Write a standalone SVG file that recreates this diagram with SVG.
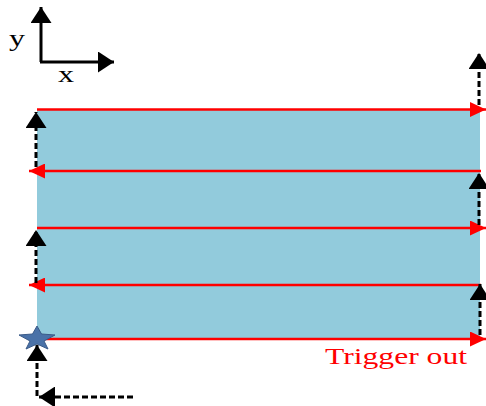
<svg xmlns="http://www.w3.org/2000/svg" width="486" height="406" viewBox="0 0 486 406">
<defs>
<style>
.red{stroke:#FF0000;stroke-width:2.4;fill:none}
.dash{stroke:#000;stroke-width:3;stroke-dasharray:6,3;fill:none}
.ax{stroke:#000;stroke-width:3;fill:none}
.lbl{font-family:"Liberation Serif",serif;fill:#000}
</style>
<marker id="rh" markerUnits="userSpaceOnUse" viewBox="0 0 16 15" markerWidth="16" markerHeight="15" refX="16" refY="7.5" orient="auto"><path d="M0,0L16,7.5L0,15Z" fill="#FF0000"/></marker>
<marker id="bh" markerUnits="userSpaceOnUse" viewBox="0 0 16 21" markerWidth="16" markerHeight="21" refX="16" refY="10.5" orient="auto"><path d="M0,0L16,10.5L0,21Z" fill="#000"/></marker>
</defs>
<rect id="panel" x="37" y="109" width="443" height="230" fill="#92CBDC"/>
<g id="axes">
<line class="ax" x1="41" y1="62" x2="41" y2="7" marker-end="url(#bh)"/>
<line class="ax" x1="40" y1="62" x2="114" y2="62" marker-end="url(#bh)"/>
<text class="lbl" x="9" y="46" font-size="24" textLength="16" lengthAdjust="spacingAndGlyphs">y</text>
<text class="lbl" x="58" y="82" font-size="24" textLength="16" lengthAdjust="spacingAndGlyphs">x</text>
</g>
<g id="connectors">
<line class="red" x1="37" y1="109.5" x2="486" y2="109.5" marker-end="url(#rh)"/>
<line class="red" x1="481" y1="171" x2="29" y2="171" marker-end="url(#rh)"/>
<line class="red" x1="37" y1="228" x2="486" y2="228" marker-end="url(#rh)"/>
<line class="red" x1="481" y1="285" x2="29" y2="285" marker-end="url(#rh)"/>
<line class="red" x1="37" y1="339" x2="486" y2="339" marker-end="url(#rh)"/>
<line class="dash" x1="36" y1="167" x2="36" y2="112" marker-end="url(#bh)"/>
<line class="dash" x1="36" y1="283" x2="36" y2="230" marker-end="url(#bh)"/>
<line class="dash" x1="37" y1="396" x2="37" y2="345" marker-end="url(#bh)"/>
<line class="dash" x1="133" y1="397" x2="39" y2="397" marker-end="url(#bh)"/>
<line class="dash" x1="479" y1="105" x2="479" y2="53" marker-end="url(#bh)"/>
<line class="dash" x1="479" y1="225" x2="479" y2="173" marker-end="url(#bh)"/>
<line class="dash" x1="480" y1="335" x2="480" y2="284" marker-end="url(#bh)"/>
</g>
<g id="start">
<polygon points="37,326 41.5,334 55,335 44,341 48,349 37,344 26,349 30,341 19,335 32.5,334" fill="#4A72A8" stroke="#3A5A88" stroke-width="1"/>
</g>
<g id="trigger">
<text x="325" y="364" font-family="'Liberation Serif',serif" font-size="24" fill="#FF0000" textLength="142" lengthAdjust="spacingAndGlyphs">Trigger out</text>
</g>
</svg>
